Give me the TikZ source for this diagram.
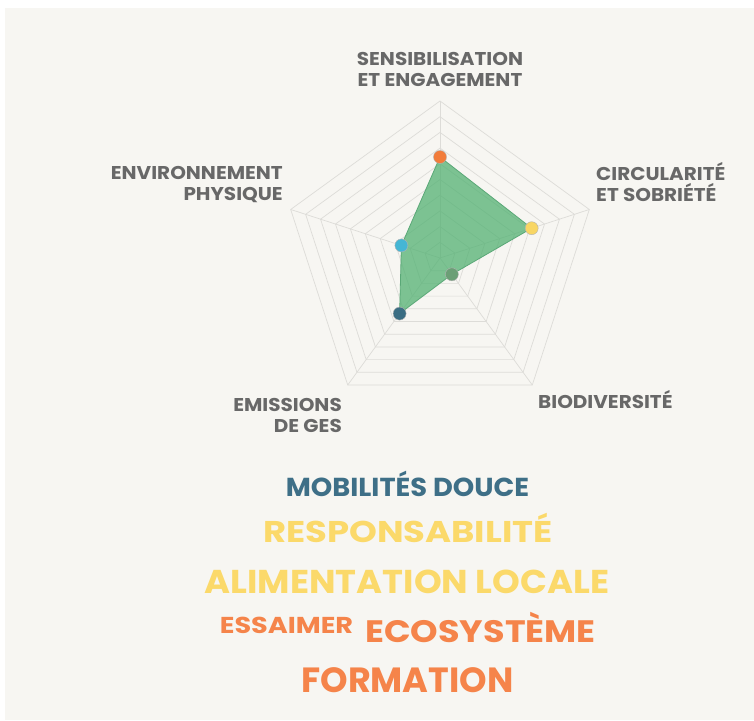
\documentclass[tikz,border=0pt]{standalone}
\usepackage{graphicx}
\usepackage{fontspec}
\setmainfont{Poppins}
\newfontfamily\labelfont{Poppins}[FakeStretch=1.08]
\definecolor{cream}{HTML}{F7F6F2}
\definecolor{gridgray}{HTML}{DDDCD8}
\definecolor{labelgray}{HTML}{686868}
\definecolor{areagreen}{HTML}{4DAF6E}
\definecolor{edgegreen}{HTML}{5AA877}
\definecolor{dotorange}{HTML}{F27C3A}
\definecolor{dotyellow}{HTML}{F8D664}
\definecolor{dotgreen}{HTML}{6B9F76}
\definecolor{dotteal}{HTML}{3A6D83}
\definecolor{dotcyan}{HTML}{45B6D4}
\definecolor{wordteal}{HTML}{3E6F87}
\definecolor{wordyellow}{HTML}{FBD96A}
\definecolor{wordorange}{HTML}{F5844A}
\begin{document}
\begin{tikzpicture}[x=1pt, y=1pt,
    gridline/.style={draw=gridgray, line width=0.7pt},
    axislabel/.style={labelgray, inner sep=0pt, font=\labelfont\bfseries\fontsize{18.5}{21.5}\selectfont},
    dot/.style={circle, inner sep=0pt, minimum size=13pt, draw=black!30, line width=0.4pt},
    word/.style={inner sep=0pt, anchor=base, font=\bfseries\fontsize{#1}{#1}\selectfont},
    word/.default=30]

      \useasboundingbox (0,0) rectangle (754,720);
      \fill[cream] (5,0) rectangle (754,712);

      \begin{scope}[shift={(440,462)}]
        \foreach \r [evaluate=\r as \R using \r*15.7] in {1,...,10}
          \draw[gridline] (90:\R) -- (18:\R) -- (-54:\R) -- (-126:\R) -- (162:\R) -- cycle;
        \foreach \a in {90,18,-54,-126,162}
          \draw[gridline] (0,0) -- (\a:157);

        \coordinate (sens) at (90:101);
        \coordinate (circ) at (18:96.4);
        \coordinate (bio) at (-54:20.2);
        \coordinate (ges) at (-126:68.7);
        \coordinate (env) at (162:40.6);

        \filldraw[fill=areagreen, fill opacity=0.72, draw=edgegreen, line width=0.8pt]
          (sens) -- (circ) -- (bio) -- (ges) -- (env) -- cycle;

        \node[dot, fill=dotorange] (sensdot) at (sens) {};
        \node[dot, fill=dotyellow] (circdot) at (circ) {};
        \node[dot, fill=dotgreen] (biodot) at (bio) {};
        \node[dot, fill=dotteal] (gesdot) at (ges) {};
        \node[dot, fill=dotcyan] (envdot) at (env) {};
      \end{scope}

      \node[axislabel, align=center, anchor=base] (senslabel) at (440,633) {SENSIBILISATION\\ET ENGAGEMENT};
      \node[axislabel, align=right, anchor=base east] (envlabel) at (283,519) {ENVIRONNEMENT\\PHYSIQUE};
      \node[axislabel, align=left, anchor=base west] (circlabel) at (596,518) {CIRCULARITÉ\\ET SOBRIÉTÉ};
      \node[axislabel, align=right, anchor=base east] (geslabel) at (342,287) {EMISSIONS\\DE GES};
      \node[axislabel, anchor=base west] (biolabel) at (538,311) {BIODIVERSITÉ};

      \node[word=26, wordteal] (mobilites) at (407.5,223) {\scalebox{1.05}[1]{MOBILITÉS DOUCE}};
      \node[word=30, wordyellow] (responsabilite) at (408,177) {\scalebox{1.18}[1]{RESPONSABILITÉ}};
      \node[word=33, wordyellow] (alimentation) at (407,127) {\scalebox{1.07}[1]{ALIMENTATION LOCALE}};
      \node[word=23, wordorange] (essaimer) at (286.5,87) {\scalebox{1.18}[1]{ESSAIMER}};
      \node[word=31, wordorange] (ecosysteme) at (480.5,78) {\scalebox{1.13}[1]{ECOSYSTÈME}};
      \node[word=35, wordorange] (formation) at (407.5,28) {FORMATION};

\end{tikzpicture}
\end{document}
